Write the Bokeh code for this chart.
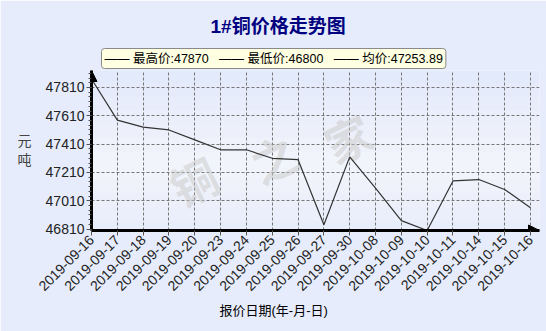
import math
from bokeh.plotting import figure
from bokeh.models import Range1d, FixedTicker, Label, Arrow, NormalHead, BoxAnnotation, Title
from bokeh.embed import file_html
from bokeh.resources import INLINE

dates = ["2019-09-16", "2019-09-17", "2019-09-18", "2019-09-19", "2019-09-20",
         "2019-09-23", "2019-09-24", "2019-09-25", "2019-09-26", "2019-09-27",
         "2019-09-30", "2019-10-08", "2019-10-09", "2019-10-10", "2019-10-11",
         "2019-10-14", "2019-10-15", "2019-10-16"]
prices = [47870, 47580, 47530, 47510, 47440, 47370, 47370, 47310, 47300, 46840,
          47320, 47100, 46870, 46800, 47150, 47160, 47090, 46960]
y_ticks = [46810, 47010, 47210, 47410, 47610, 47810]
title_text = "1#铜价格走势图"
legend_items = ["最高价:47870", "最低价:46800", "均价:47253.89"]
x_title = "报价日期(年-月-日)"
y_title = "元\n吨"
watermark = ["铜", "之", "家"]

FONT = "Liberation Sans, Noto Sans CJK SC"
W, H = 546, 331
L, T, B = 91, 70, 230
X_END = 17.35
Y0, Y1 = 46800, 47930

NB = "\u00a0"
legend_text = (NB * 3).join("——" + NB + s for s in legend_items)

p = figure(width=W, height=H, x_range=Range1d(0, X_END), y_range=Range1d(Y0, Y1),
           output_backend="svg", toolbar_location=None, title=None,
           min_border_left=L, min_border_right=W - L - round(X_END * 25.82),
           min_border_top=T, min_border_bottom=H - B)
p.outline_line_color = None
p.border_fill_color = "#e6ecfb"
p.background_fill_color = None

sx = 25.82
sy = (Y1 - Y0) / (B - T)
def xd(px):
    return (px - L) / sx
def yd(py):
    return Y0 + (B - py) * sy

# background gradient bands inside the frame
top_c = (215, 225, 251)
mid_c = (243, 245, 252)
n = 24
for i in range(n):
    py0 = i * H / n
    py1 = (i + 1) * H / n
    t = ((py0 + py1) / 2) / H
    f = 1 - abs(t - 0.5) * 2
    c = tuple(int(top_c[k] + (mid_c[k] - top_c[k]) * f) for k in range(3))
    col = "#%02x%02x%02x" % c
    p.add_layout(BoxAnnotation(left=xd(-2), right=xd(W + 2), top=yd(py0 - 0.5), bottom=yd(py1 + 0.5),
                               fill_color=col, fill_alpha=1, line_color=None, level="image"))

# axes
p.xaxis.ticker = FixedTicker(ticks=list(range(len(dates))))
p.xaxis.major_label_overrides = {i: d for i, d in enumerate(dates)}
p.xaxis.major_label_orientation = math.pi / 4
p.yaxis.ticker = FixedTicker(ticks=y_ticks, minor_ticks=[Y0 + 10 + k * 200 / 6 for k in range(-1, 36)])
for ax in (p.xaxis[0], p.yaxis[0]):
    ax.axis_line_width = 3
    ax.axis_line_color = "black"
    ax.major_tick_line_color = "#555555"
    ax.minor_tick_line_color = "#555555"
    ax.major_tick_in = 0
    ax.major_tick_out = 5
    ax.major_label_text_font = FONT
    ax.major_label_text_font_size = "14px"
    ax.major_label_text_color = "#222222"
    ax.major_label_standoff = 2
p.yaxis.minor_tick_in = 0
p.yaxis.minor_tick_out = 3
p.xaxis.minor_tick_line_color = None

p.yaxis.axis_label = y_title
p.yaxis.axis_label_orientation = "horizontal"
p.yaxis.axis_label_text_font = FONT
p.yaxis.axis_label_text_font_size = "14px"
p.yaxis.axis_label_text_font_style = "normal"
p.yaxis.axis_label_standoff = 11

p.xgrid.ticker = FixedTicker(ticks=list(range(1, len(dates))))
p.ygrid.ticker = FixedTicker(ticks=y_ticks[1:])
for g in (p.xgrid[0], p.ygrid[0]):
    g.grid_line_color = "#777777"
    g.grid_line_dash = "3 2"
    g.grid_line_width = 1

# watermark
wm_pos = [(193, 180), (273, 157), (347, 137)]
for ch, (px, py) in zip(watermark, wm_pos):
    p.add_layout(Label(x=xd(px), y=yd(py), text=ch, text_font="Noto Sans CJK SC",
                       text_font_size="46px", text_font_style="bold", text_color="#c8c8c8",
                       text_alpha=0.5, angle=0.45, text_align="center",
                       text_baseline="middle", level="underlay"))

p.line(list(range(len(dates))), prices, line_color="#333333", line_width=1.2)

# axis arrows
p.add_layout(Arrow(x_start=0, y_start=yd(80), x_end=0, y_end=Y1, line_alpha=0,
                   end=NormalHead(size=11, fill_color="black", line_color="black")))
p.add_layout(Arrow(x_start=xd(528), y_start=Y0, x_end=X_END, y_end=Y0, line_alpha=0,
                   end=NormalHead(size=11, fill_color="black", line_color="black")))

# legend (as a title strip nearest the frame) and main title (outer)
leg = Title(text=legend_text, align="left", offset=10, text_font=FONT,
            text_font_size="12.5px", text_font_style="normal", text_color="black",
            background_fill_color="#ffffe1", border_line_color="#8a8a8a", standoff=4)
for k, v in (("padding", 3), ("border_radius", 3)):
    try:
        setattr(leg, k, v)
    except Exception:
        pass
p.add_layout(leg, "above")
p.add_layout(Title(text=title_text, align="left", offset=119, text_font=FONT,
                   text_font_size="19px", text_font_style="bold", text_color="#000080",
                   standoff=15), "above")

# x axis title
p.add_layout(Title(text=x_title, align="left", offset=273 - L - 54, text_font=FONT,
                   text_font_size="13px", text_font_style="normal", text_color="black",
                   standoff=4), "below")

open("out.html", "w").write(file_html(p, INLINE))
